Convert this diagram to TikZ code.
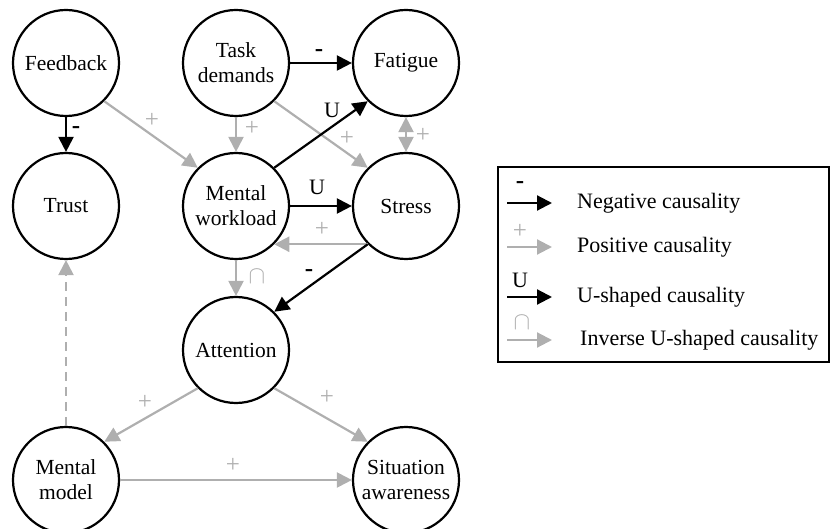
\documentclass[tikz,border=0pt]{standalone}
\usepackage{fontspec}
\setmainfont{Liberation Serif}
\usetikzlibrary{arrows.meta}
\definecolor{lgray}{RGB}{175,175,175}
\begin{document}
\begin{tikzpicture}[x=1pt,y=-1pt,
  concept/.style={circle,draw=black,line width=2.2pt,minimum size=106pt,inner sep=0pt,align=center,font=\fontsize{21.5}{25}\selectfont},
  negarrow/.style={draw=black,line width=2.2pt,-{Triangle[length=15pt,width=15pt]}},
  posarrow/.style={draw=lgray,line width=2.2pt,-{Triangle[length=15pt,width=15pt]},color=lgray},
  lbl/.style={font=\fontsize{22}{24}\selectfont,inner sep=0pt},
  dashlbl/.style={font=\fontsize{25}{26}\selectfont\bfseries,inner sep=0pt},
  glbl/.style={font=\fontsize{25}{26}\selectfont,inner sep=0pt,text=lgray},
  legtxt/.style={font=\fontsize{22}{25}\selectfont,anchor=west,inner sep=0pt}]
\useasboundingbox (0,0) rectangle (830,529);
% nodes
\node[concept] (fb) at (66,63) {Feedback};
\node[concept] (td) at (236,63) {Task\\demands};
\node[concept] (fa) at (406,63) {Fatigue};
\node[concept] (tr) at (66,206) {Trust};
\node[concept] (mw) at (236,206) {Mental\\workload};
\node[concept] (st) at (406,206) {Stress};
\node[concept] (at) at (236,350) {Attention};
\node[concept] (mm) at (66,480) {Mental\\model};
\node[concept] (sa) at (406,480) {Situation\\awareness};
% connectors
\draw[negarrow] (fb.south) -- (tr.north);
\node[dashlbl] at (76,130) {-};
\draw[posarrow] (fb.-45) -- (mw.135);
\node[glbl] at (152,120) {+};
\draw[posarrow] (td.south) -- (mw.north);
\node[glbl] at (252,128) {+};
\draw[negarrow] (td.east) -- (fa.west);
\node[dashlbl] at (319,53) {-};
\draw[posarrow] (td.-45) -- (st.135);
\node[glbl] at (347,138) {+};
\draw[negarrow] (mw.45) -- (fa.-135);
\node[lbl] at (332,110) {U};
\draw[posarrow,{Triangle[length=15pt,width=15pt]}-{Triangle[length=15pt,width=15pt]}] (fa.south) -- (st.north);
\node[glbl] at (423,135) {+};
\draw[negarrow] (mw.east) -- (st.west);
\node[lbl] at (317,187) {U};
\draw[posarrow] (st.-135) -- (mw.-45);
\node[glbl] at (322,229) {+};
\draw[posarrow] (mw.south) -- (at.north);
\node[glbl] at (257,277) {$\cap$};
\draw[negarrow] (st.-135) -- (at.45);
\node[dashlbl] at (309,273) {-};
\draw[posarrow,dash pattern=on 9pt off 6pt] (mm.north) -- (tr.south);
\draw[posarrow] (at.-135) -- (mm.45);
\node[glbl] at (145,402) {+};
\draw[posarrow] (at.-45) -- (sa.135);
\node[glbl] at (327,397) {+};
\draw[posarrow] (mm.east) -- (sa.west);
\node[glbl] at (233,465) {+};
% legend
\draw[line width=2pt] (498,167) rectangle (829,362);
\coordinate (l1a) at (507,203); \coordinate (l1b) at (552,203);
\coordinate (l2a) at (507,247); \coordinate (l2b) at (552,247);
\coordinate (l3a) at (507,297); \coordinate (l3b) at (552,297);
\coordinate (l4a) at (507,340); \coordinate (l4b) at (552,340);
\draw[negarrow] (l1a) -- (l1b);
\node[dashlbl] at (520,185) {-};
\node[legtxt] at (577,203) {Negative causality};
\draw[posarrow] (l2a) -- (l2b);
\node[glbl] at (520,231) {+};
\node[legtxt] at (577,247) {Positive causality};
\draw[negarrow] (l3a) -- (l3b);
\node[lbl] at (520,280) {U};
\node[legtxt] at (577,297) {U-shaped causality};
\draw[posarrow] (l4a) -- (l4b);
\node[glbl] at (522,323) {$\cap$};
\node[legtxt] at (580,340) {Inverse U-shaped causality};
\end{tikzpicture}
\end{document}
